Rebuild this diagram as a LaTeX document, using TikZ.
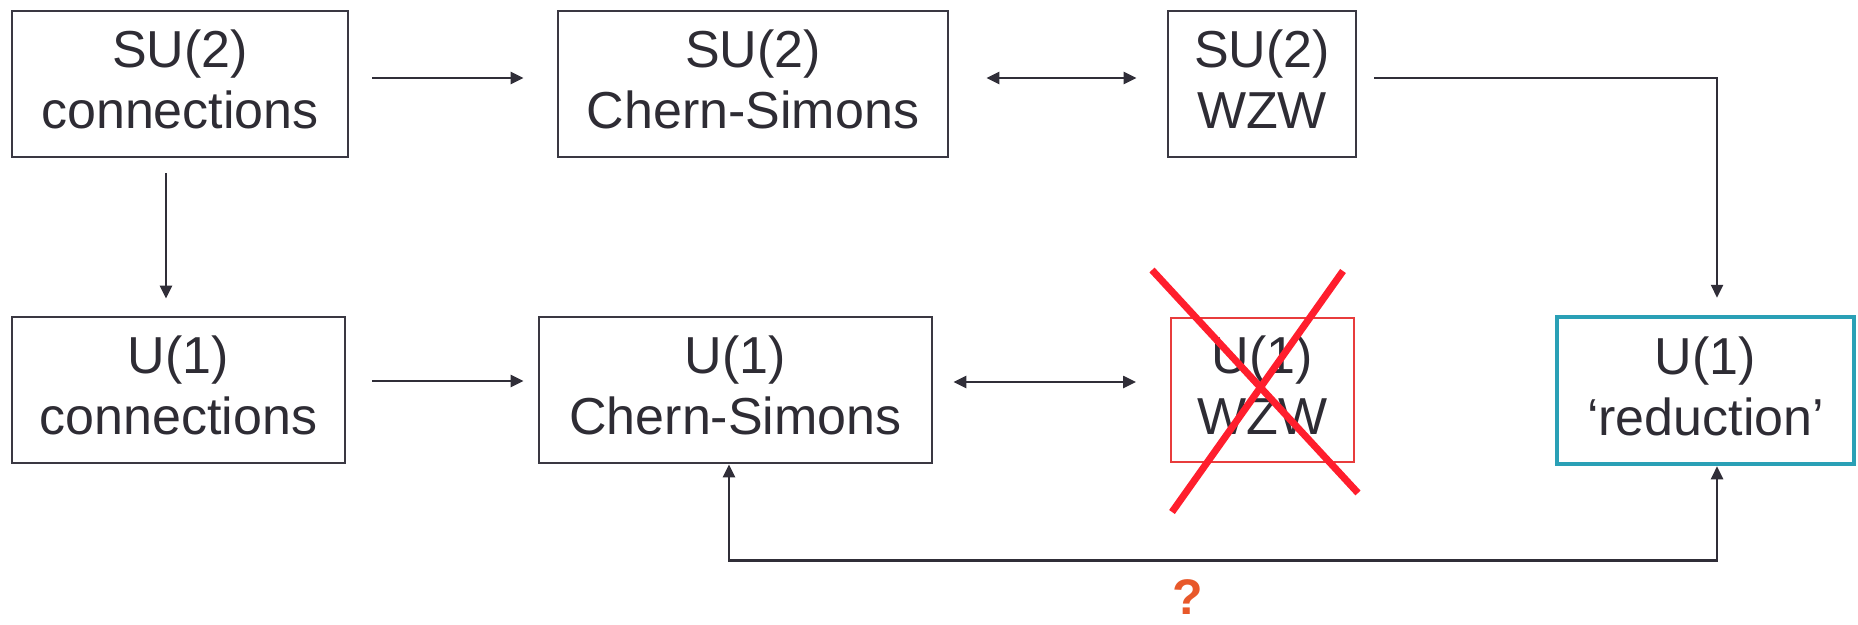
\documentclass[tikz,border=0pt]{standalone}
\usepackage{fontspec}
\setmainfont{Liberation Sans}
\usetikzlibrary{arrows.meta,calc}
\definecolor{boxgray}{RGB}{58,56,66}
\definecolor{textgray}{RGB}{46,44,52}
\definecolor{arrowgray}{RGB}{48,46,56}
\definecolor{cyanbox}{RGB}{42,160,182}
\definecolor{redbox}{RGB}{232,60,60}
\definecolor{redx}{RGB}{255,30,45}
\definecolor{qorange}{RGB}{232,88,42}
\newcommand{\lowstrut}{\rule[-9pt]{0pt}{9pt}}
\tikzset{
  box/.style={draw=boxgray, line width=2.8pt, minimum height=146pt, inner sep=0pt,
    align=center, text=textgray, font=\fontsize{52}{61}\selectfont},
  arr/.style={draw=arrowgray, line width=2.5pt, -{Triangle[length=13pt,width=12pt]}},
  darr/.style={draw=arrowgray, line width=2.5pt, {Triangle[length=13pt,width=12pt]}-{Triangle[length=13pt,width=12pt]}},
  cross/.style={draw=redx, line width=7pt}
}
\begin{document}
\begin{tikzpicture}[x=1pt,y=-1pt]
\useasboundingbox[fill=white] (0,0) rectangle (1858,624);
% top row
\node[box, minimum width=336pt] (su2c)  at (180,84)   {SU(2)\\connections\lowstrut};
\node[box, minimum width=390pt] (su2cs) at (753,84)   {SU(2)\\Chern-Simons\lowstrut};
\node[box, minimum width=188pt] (su2w)  at (1262,84)  {SU(2)\\WZW\lowstrut};
% bottom row
\node[box, minimum width=333pt] (u1c)   at (178.5,390) {U(1)\\connections\lowstrut};
\node[box, minimum width=393pt] (u1cs)  at (735.5,390) {U(1)\\Chern-Simons\lowstrut};
\node[box, draw=redbox, line width=2pt, minimum width=183pt, minimum height=144pt] (u1w) at (1262.5,390) {U(1)\\WZW\lowstrut};
\node[box, draw=cyanbox, line width=4.5pt, minimum width=297pt, minimum height=147pt] (u1r) at (1705.5,390.5) {U(1)\\‘reduction’\lowstrut};
% connectors
\draw[arr, shorten <=23pt, shorten >=33pt] ([yshift=6pt]su2c.east) -- ([yshift=6pt]su2cs.west);
\draw[darr, shorten <=37pt, shorten >=30pt] ([yshift=6pt]su2cs.east) -- ([yshift=6pt]su2w.west);
\draw[arr] ([xshift=17pt,yshift=6pt]su2w.east) -| ([xshift=11.5pt,yshift=17pt]u1r.north);
\draw[arr, shorten <=15pt, shorten >=17pt] ([xshift=-14pt]su2c.south) -- ([xshift=-12.5pt]u1c.north);
\draw[arr, shorten <=26pt, shorten >=14pt] ([yshift=9pt]u1c.east) -- ([yshift=9pt]u1cs.west);
\draw[darr, shorten <=20pt, shorten >=34pt] ([yshift=8pt]u1cs.east) -- ([yshift=8pt]u1w.west);
\draw[darr] ([xshift=-6.5pt]u1cs.south) -- ++(0,96) -| ([xshift=11.5pt]u1r.south);
% red cross over U(1) WZW
\draw[cross] (1152,270) -- (1358,493);
\draw[cross] (1343,271) -- (1172,512);
% question mark
\node[text=qorange, font=\fontsize{50}{60}\selectfont\bfseries, inner sep=0pt] (q) at (1188,597) {?};
\end{tikzpicture}
\end{document}
